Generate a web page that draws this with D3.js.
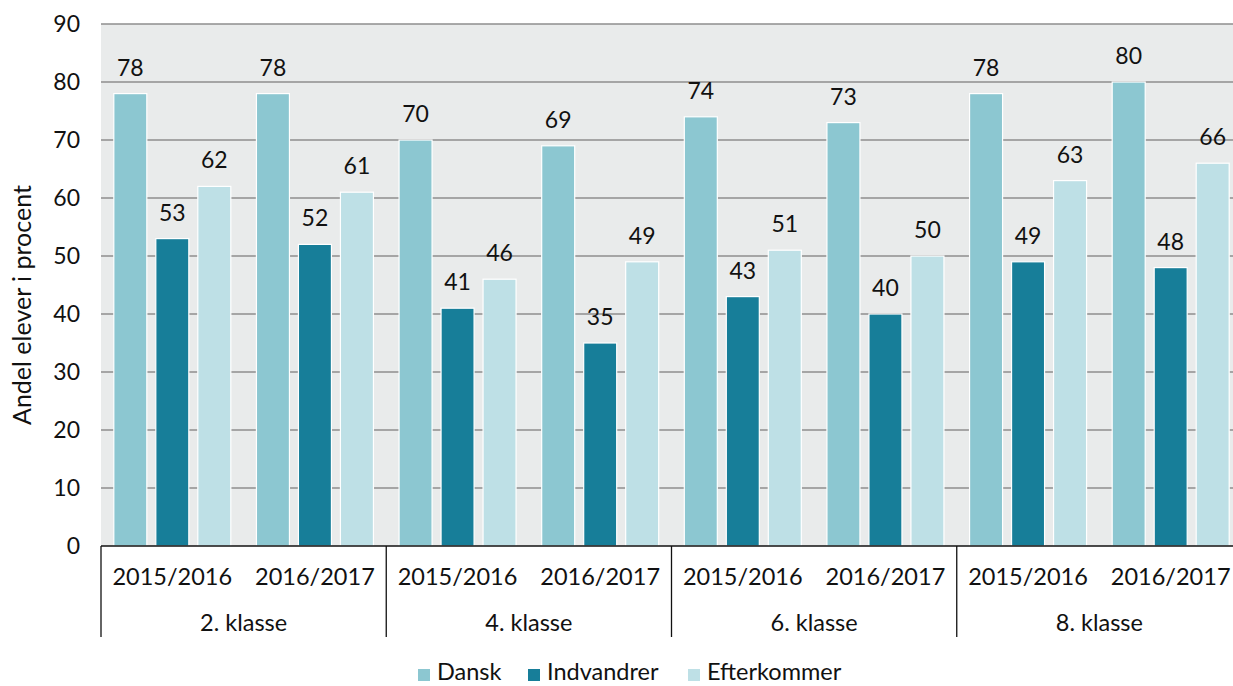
<!DOCTYPE html>
<html><head><meta charset="utf-8">
<script src="https://cdn.jsdelivr.net/npm/d3@7"></script>
<style>body{margin:0;background:#fff}svg{display:block;font-family:Lato,sans-serif}</style>
</head><body><svg id="c" width="1233" height="686"></svg>
<script>
const groups = ["2. klasse","4. klasse","6. klasse","8. klasse"];
const years = ["2015/2016","2016/2017"];
const series = ["Dansk","Indvandrer","Efterkommer"];
const dansk = [78,78,70,69,74,73,78,80];
const indvandrer = [53,52,41,35,43,40,49,48];
const efterkommer = [62,61,46,49,51,50,63,66];
const yTicks = [0,10,20,30,40,50,60,70,80,90];
const colors = ["#8cc7d1","#177e99","#bee0e6"];

const values = [dansk, indvandrer, efterkommer];
const cats = [];
groups.forEach(g => years.forEach(y => cats.push(g + "|" + y)));

const svg = d3.select("#c");
const L = 101, R = 1242, T = 24, B = 546;
const x0 = d3.scaleBand().domain(cats).range([L, R]).padding(0);
const x1 = d3.scaleBand().domain(series).range([0, x0.bandwidth()]).paddingInner(0.214).paddingOuter(0.305);
const y = d3.scaleLinear().domain([0, 90]).range([B, T]);

svg.append("rect").attr("x", L).attr("y", T).attr("width", R - L).attr("height", B - T).attr("fill", "#e9ebeb");

svg.append("g").selectAll("line").data(yTicks.filter(d => d > 0)).join("line")
  .attr("x1", L).attr("x2", R).attr("y1", d => y(d)).attr("y2", d => y(d))
  .attr("stroke", "#8e8e8e").attr("stroke-width", 1.3);

const yAxis = d3.axisLeft(y).tickValues(yTicks).tickSize(0).tickPadding(0);
const ya = svg.append("g").attr("transform", `translate(80,0)`).call(yAxis);
ya.select(".domain").remove();
ya.selectAll("text").attr("font-size", 23).attr("fill", "#111").attr("font-family", "Lato");

const bars = svg.append("g");
series.forEach((s, si) => {
  const g = bars.append("g");
  g.selectAll("rect").data(cats).join("rect")
    .attr("x", (c) => x0(c) + x1(s))
    .attr("y", (c, i) => y(values[si][i]))
    .attr("width", x1.bandwidth())
    .attr("height", (c, i) => B - y(values[si][i]))
    .attr("fill", colors[si]).attr("stroke", "#fff").attr("stroke-width", 1.2);
  g.selectAll("text").data(cats).join("text")
    .attr("x", c => x0(c) + x1(s) + x1.bandwidth() / 2)
    .attr("y", (c, i) => y(values[si][i]) - 18)
    .attr("text-anchor", "middle").attr("font-size", 23).attr("fill", "#111")
    .text((c, i) => values[si][i]);
});

svg.append("line").attr("x1", L).attr("x2", R).attr("y1", B).attr("y2", B).attr("stroke", "#111").attr("stroke-width", 1.3);

// category axis
svg.append("g").selectAll("text").data(cats).join("text")
  .attr("x", c => x0(c) + x0.bandwidth() / 2).attr("y", 585)
  .attr("text-anchor", "middle").attr("font-size", 23.5).attr("fill", "#111")
  .text(c => c.split("|")[1]);
const gScale = d3.scaleBand().domain(groups).range([L, R]);
svg.append("g").selectAll("text").data(groups).join("text")
  .attr("x", g => gScale(g) + gScale.bandwidth() / 2).attr("y", 631)
  .attr("text-anchor", "middle").attr("font-size", 23.5).attr("fill", "#111")
  .text(g => g);
svg.append("g").selectAll("line").data(groups).join("line")
  .attr("x1", g => gScale(g)).attr("x2", g => gScale(g)).attr("y1", B).attr("y2", 637)
  .attr("stroke", "#111").attr("stroke-width", 1.3);

// y title
svg.append("text").attr("transform", "translate(31,305) rotate(-90)")
  .attr("text-anchor", "middle").attr("font-size", 25).attr("fill", "#111")
  .text("Andel elever i procent");

// legend
const legX = [418, 528, 688];
const lg = svg.append("g");
series.forEach((s, i) => {
  lg.append("rect").attr("x", legX[i]).attr("y", 669).attr("width", 12).attr("height", 12).attr("fill", colors[i]);
  lg.append("text").attr("x", legX[i] + 19).attr("y", 680).attr("font-size", 23.5).attr("fill", "#111").text(s);
});
</script></body></html>
